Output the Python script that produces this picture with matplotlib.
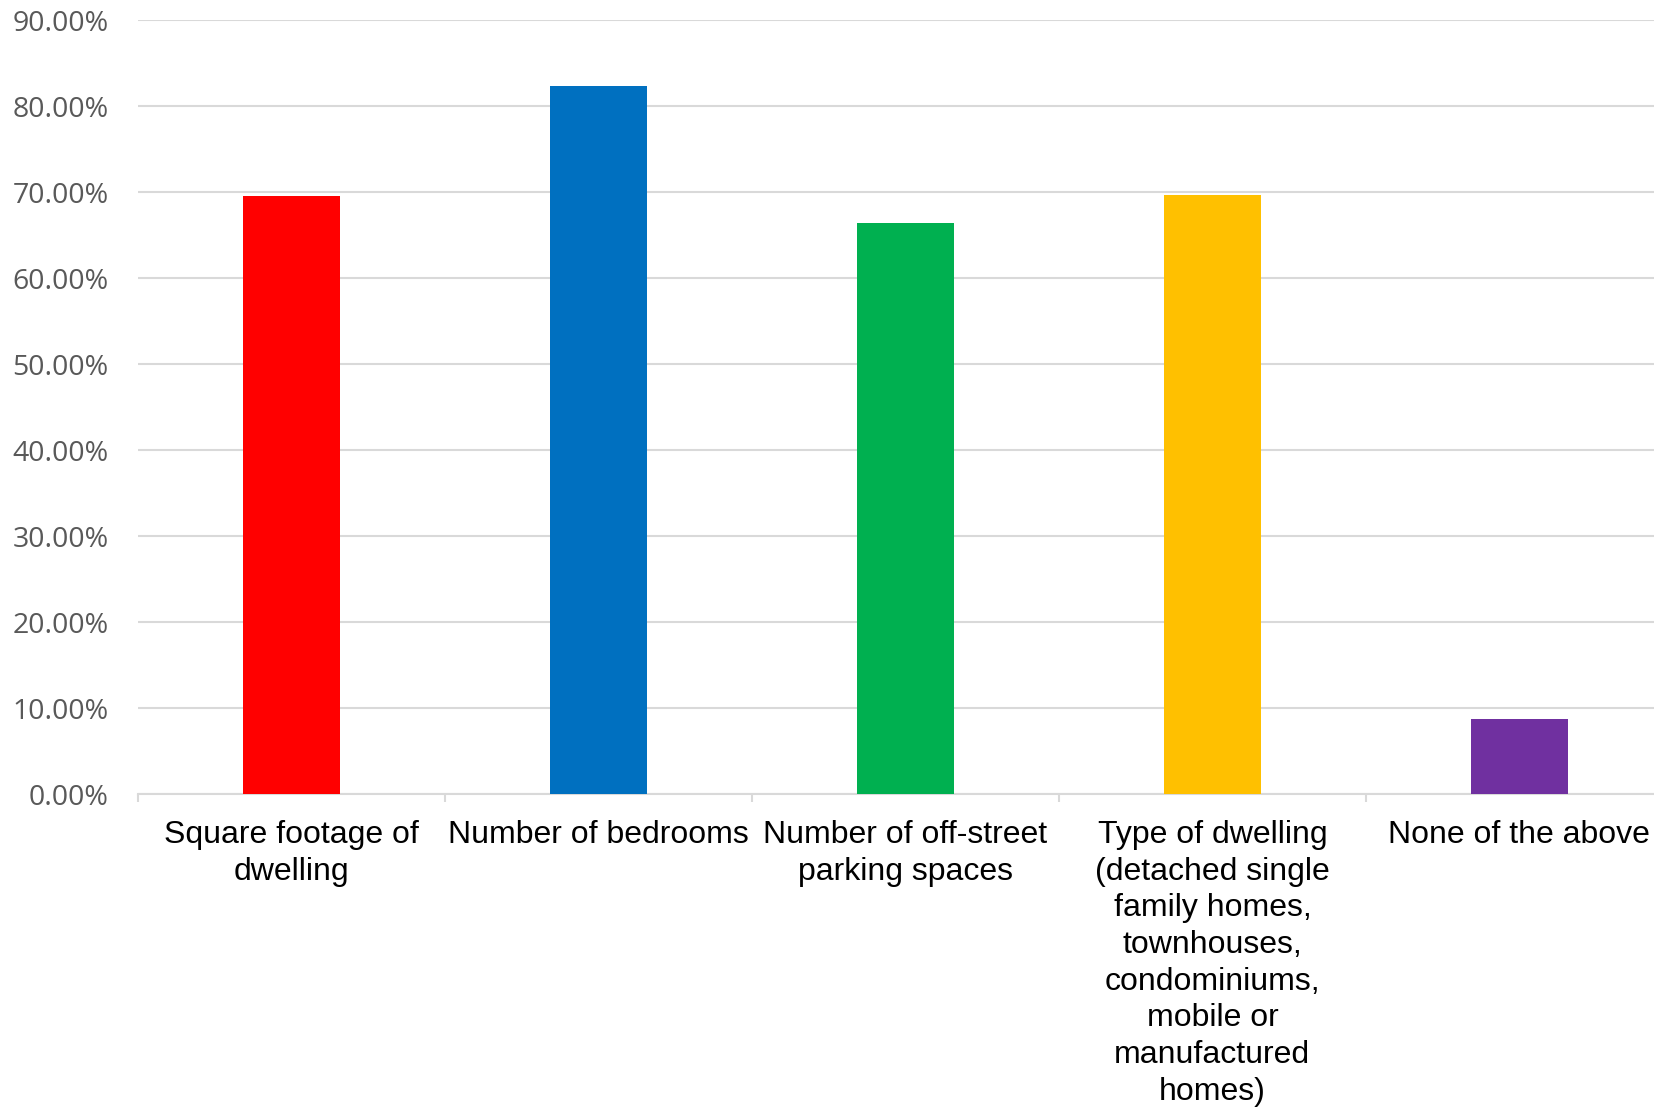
import matplotlib
matplotlib.use("Agg")
import matplotlib.pyplot as plt
from matplotlib.ticker import FixedLocator, FuncFormatter

categories = [
    "Square footage of\ndwelling",
    "Number of bedrooms",
    "Number of off-street\nparking spaces",
    "Type of dwelling\n(detached single\nfamily homes,\ntownhouses,\ncondominiums,\nmobile or\nmanufactured\nhomes)",
    "None of the above",
]
shares = [69.6, 82.3, 66.4, 69.7, 8.7]
colors = ["#FF0000", "#0070C0", "#00B050", "#FFC000", "#7030A0"]
y_ticks = [0, 10, 20, 30, 40, 50, 60, 70, 80, 90]

fig = plt.figure(figsize=(16.54, 11.08), dpi=100)
ax = fig.add_axes([0.0834, 0.2831, 0.928, 0.6988])

x = list(range(len(categories)))
ax.bar(x, shares, width=0.316, color=colors, zorder=3)

ax.set_xlim(-0.5, len(categories) - 0.5)
ax.set_ylim(0, 90)

ax.set_yticks(y_ticks)
ax.yaxis.set_major_formatter(FuncFormatter(lambda v, _: f"{v:.2f}%"))
ax.tick_params(axis="y", length=0, pad=21, labelsize=20.5, labelcolor="#595959")
for lbl in ax.get_yticklabels():
    lbl.set_fontfamily("Open Sans")

ax.set_xticks(x)
ax.set_xticklabels(categories, fontsize=23, fontfamily="Liberation Sans",
                   color="black", linespacing=1.29, va="top")
ax.tick_params(axis="x", which="major", length=0, pad=18.5)
ax.xaxis.set_minor_locator(FixedLocator([i - 0.5 for i in range(len(categories) + 1)]))
ax.tick_params(axis="x", which="minor", length=6, width=1.5, color="#D9D9D9")

ax.grid(axis="y", color="#D9D9D9", linewidth=1.5, zorder=0)
for side in ["left", "right", "top"]:
    ax.spines[side].set_visible(False)
ax.spines["bottom"].set_color("#D9D9D9")
ax.spines["bottom"].set_linewidth(1.5)

fig.savefig("out.png", dpi=100)
